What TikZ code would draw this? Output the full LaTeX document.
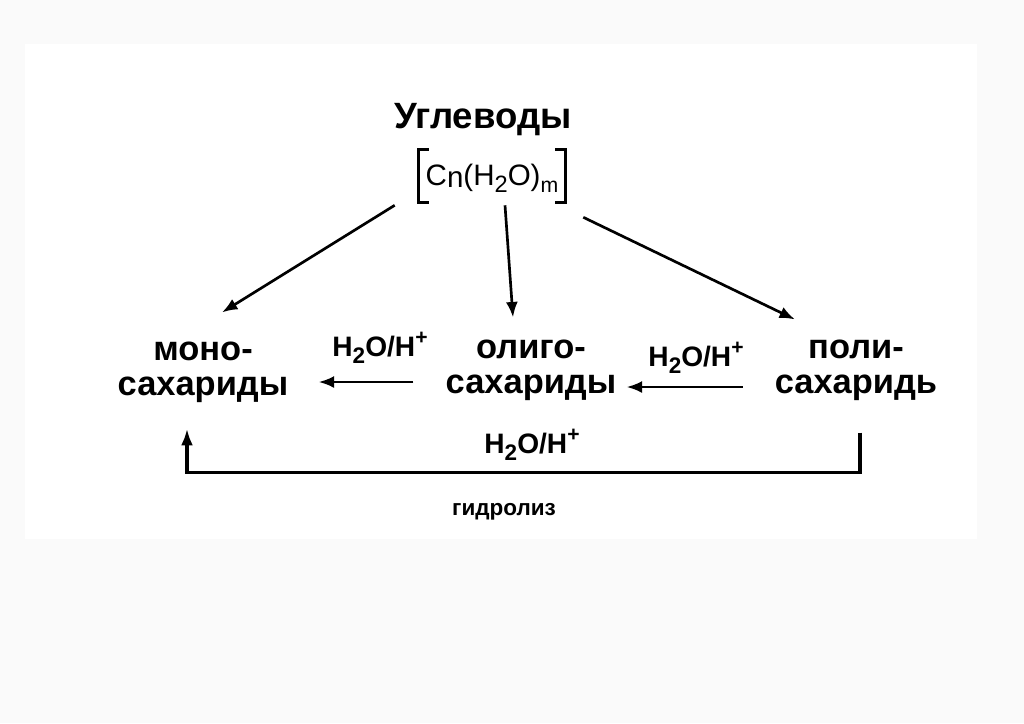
\documentclass[tikz,border=0pt]{standalone}
\usepackage{fontspec}
\setmainfont{Liberation Sans}
\usetikzlibrary{arrows.meta}
\newcommand\dn[1]{\raisebox{-0.25em}{\scalebox{0.8}{#1}}}
\newcommand\up[1]{\raisebox{0.42em}{\scalebox{0.75}{#1}}}

\begin{document}
\begin{tikzpicture}[x=0.025cm,y=-0.025cm,
	sugar/.style={align=center,inner sep=0pt,font=\fontsize{24.5}{24.8}\selectfont\bfseries},
	reag/.style={inner sep=0pt,font=\fontsize{20}{22}\selectfont\bfseries},
	arr/.style={line width=1.9pt,-{Latex[length=11pt,width=8.5pt]}},
	hydline/.style={line width=2.4pt,-{Latex[length=12pt,width=8.5pt]}}]
	\useasboundingbox (0,0) rectangle (1024,723);
	\fill[black!2] (0,0) rectangle (1024,723);
	\fill[white] (25,44) rectangle (977,539);
	
	\node[anchor=base,inner sep=0pt,font=\fontsize{26}{28}\selectfont\bfseries] (title) at (483,128) {Углеводы};
	\node[inner sep=0pt,minimum height=1.3cm,minimum width=3.65cm,font=\fontsize{21}{24}\selectfont] (fm) at (492,178) {C\raisebox{-1.5pt}{n}(H\dn{2}O)\raisebox{-0.25em}{\scalebox{0.72}{m}}};
	\draw[line width=1.8pt] ([xshift=0.25cm,yshift=0.05cm]fm.north west) -- ([yshift=0.05cm]fm.north west) -- ([yshift=0.05cm]fm.south west) -- ([xshift=0.25cm,yshift=0.05cm]fm.south west);
	\draw[line width=1.8pt] ([xshift=-0.25cm,yshift=0.05cm]fm.north east) -- ([yshift=0.05cm]fm.north east) -- ([yshift=0.05cm]fm.south east) -- ([xshift=-0.25cm,yshift=0.05cm]fm.south east);
	
	\node[sugar] (mono) at (203,372) {моно-\\сахариды};
	\node[sugar] (oligo) at (531,370) {олиго-\\сахариды};
	\node[sugar] (poly) at (856,370) {поли-\\сахаридь};
	
	\node[reag] (r1) at (380,348) {H\dn{2}O/H\up{+}};
	\node[reag] (r2) at (696,358) {H\dn{2}O/H\up{+}};
	\node[reag] (r3) at (532,445) {H\dn{2}O/H\up{+}};
	\node[inner sep=0pt,font=\fontsize{16}{18}\selectfont\bfseries] (hyd) at (504,512) {гидролиз};
	
	\draw[arr] ([shift={(-0.6cm,-0.025cm)}]fm.south west) -- ([shift={(0.475cm,0.725cm)}]mono.north);
	\draw[arr] ([shift={(0.325cm,-0.025cm)}]fm.south) -- ([shift={(-0.45cm,0.55cm)}]oligo.north);
	\draw[arr] ([shift={(0.45cm,-0.325cm)}]fm.south east) -- ([shift={(-1.525cm,0.5cm)}]poly.north);
	
	\draw[arr,shorten <=0.8cm,shorten >=0.75cm] ([yshift=-0.3cm]oligo.west) -- ([yshift=-0.3cm]oligo.west -| mono.east);
	\draw[arr,shorten <=0.8cm,shorten >=0.25cm] ([yshift=-0.425cm]poly.west) -- ([yshift=-0.425cm]poly.west -| oligo.east);
	\draw[hydline] ([shift={(0.1cm,-0.8cm)}]poly.south) -- ++(0,40) -| ([shift={(-0.4cm,-0.65cm)}]mono.south);
\end{tikzpicture}
\end{document}
